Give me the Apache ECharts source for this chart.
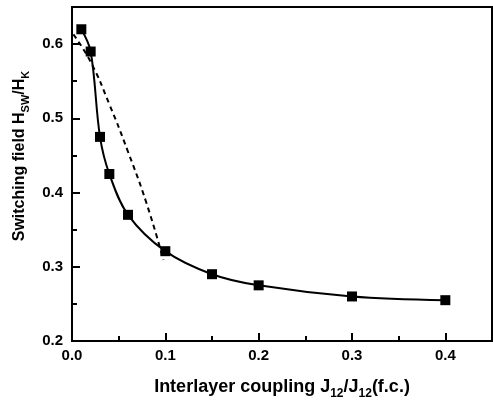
<!DOCTYPE html>
<html><head><meta charset="utf-8">
<script src="https://cdn.jsdelivr.net/npm/echarts@6/dist/echarts.min.js"></script>
<style>html,body{margin:0;padding:0;background:#fff}#c{width:493px;height:405px}</style>
</head><body><div id="c"></div>
<script>
// Data
const couplingX = [0.01, 0.02, 0.03, 0.04, 0.06, 0.10, 0.15, 0.20, 0.30, 0.40];
const switchingY = [0.620, 0.590, 0.475, 0.425, 0.370, 0.321, 0.290, 0.275, 0.260, 0.255];
const dashedX = [0.0015, 0.02, 0.04, 0.06, 0.08, 0.098];
const dashedY = [0.613, 0.576, 0.519, 0.455, 0.385, 0.309];
const xTicks = [0.0, 0.1, 0.2, 0.3, 0.4];
const yTicks = [0.2, 0.3, 0.4, 0.5, 0.6];

const font = 'Liberation Sans, Arial, sans-serif';
const solid = couplingX.map((x, i) => [x, switchingY[i]]);
const dashed = dashedX.map((x, i) => [x, dashedY[i]]);

const chart = echarts.init(document.getElementById('c'), null, {renderer: 'canvas'});
const labelStyle = {color: '#000', fontFamily: font, fontWeight: 'bold', fontSize: 15};
chart.setOption({
  animation: false,
  backgroundColor: '#fff',
  grid: {left: 72, right: 1, top: 7, bottom: 62, show: true, borderColor: '#000', borderWidth: 2},
  xAxis: [{
    type: 'value', min: 0, max: 0.45, interval: 0.1,
    axisLine: {lineStyle: {color: '#000', width: 2}},
    axisTick: {inside: true, length: 8, lineStyle: {color: '#000', width: 2}},
    splitLine: {show: false},
    axisLabel: Object.assign({}, labelStyle, {margin: 7, showMaxLabel: false,
      formatter: v => xTicks.some(t => Math.abs(t - v) < 1e-9) ? v.toFixed(1) : ''}),
    name: '{a|Interlayer coupling J}{s|12}{a|/J}{s|12}{a|(f.c.)}',
    nameLocation: 'middle', nameGap: 33,
    nameTextStyle: {rich: {
      a: {fontFamily: font, fontWeight: 'bold', fontSize: 18, color: '#000', verticalAlign: 'bottom', lineHeight: 22},
      s: {fontFamily: font, fontWeight: 'bold', fontSize: 12, color: '#000', verticalAlign: 'bottom', lineHeight: 15, padding: [0, 0, -4, 0]}
    }}
  }, {
    type: 'value', min: 0, max: 0.45, interval: 0.05, position: 'bottom',
    axisLine: {show: false}, axisLabel: {show: false}, splitLine: {show: false},
    axisTick: {inside: true, length: 5, lineStyle: {color: '#000', width: 2}}
  }],
  yAxis: [{
    type: 'value', min: 0.2, max: 0.65, interval: 0.1,
    axisLine: {lineStyle: {color: '#000', width: 2}},
    axisTick: {inside: true, length: 8, lineStyle: {color: '#000', width: 2}},
    splitLine: {show: false},
    axisLabel: Object.assign({}, labelStyle, {margin: 9, showMaxLabel: false,
      formatter: v => yTicks.some(t => Math.abs(t - v) < 1e-9) ? v.toFixed(1) : ''}),
    name: '{a|Switching field H}{s|SW}{a|/H}{s|K}',
    nameLocation: 'middle', nameGap: 37, nameRotate: 90,
    nameTextStyle: {padding: [0, 0, 0, 36], rich: {
      a: {fontFamily: font, fontWeight: 'bold', fontSize: 16, color: '#000', verticalAlign: 'bottom', lineHeight: 20},
      s: {fontFamily: font, fontWeight: 'bold', fontSize: 11, color: '#000', verticalAlign: 'bottom', lineHeight: 14, padding: [0, 0, -4, 0]}
    }}
  }, {
    type: 'value', min: 0.2, max: 0.65, interval: 0.05, position: 'left',
    axisLine: {show: false}, axisLabel: {show: false}, splitLine: {show: false},
    axisTick: {inside: true, length: 5, lineStyle: {color: '#000', width: 2}}
  }],
  series: [{
    type: 'line', data: dashed, smooth: true, symbol: 'none',
    lineStyle: {color: '#000', width: 2, type: [5, 4]}, z: 2
  }, {
    type: 'line', data: solid, smooth: 0.35, symbol: 'rect', symbolSize: 10,
    itemStyle: {color: '#000'}, lineStyle: {color: '#000', width: 2}, z: 3
  }]
});
</script></body></html>
